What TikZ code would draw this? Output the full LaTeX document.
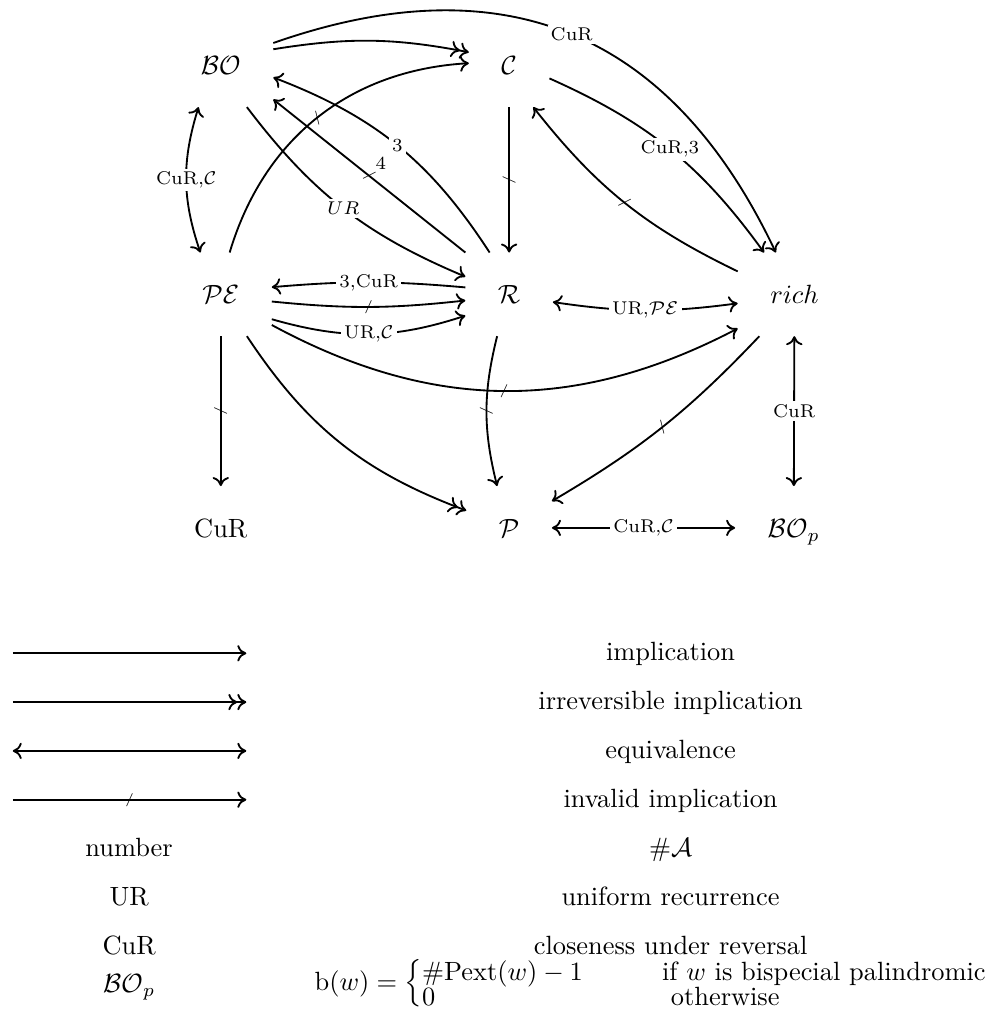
\documentclass[tikz,border=0pt]{standalone}
\usepackage{amssymb}
\usepackage{amsmath}
\usetikzlibrary{arrows.meta}

\begin{document}
\begin{tikzpicture}[
    line width = 0.7pt,
    >={Computer Modern Rightarrow[length=3.4pt, width=6.2pt]},
    prop/.style = {inner xsep=12pt, inner ysep=11pt, text height=8pt, text depth=1pt},
    desc/.style = {midway, fill=white, inner sep=1.2pt, font=\scriptsize},
    nogo/.style = {midway, sloped, anchor=center, inner sep=0pt, font=\tiny},
    keytext/.style = {text height=1.6ex, text depth=0.3ex}
  ]
  \useasboundingbox (0,0) rectangle (13.27,13.69);

  % properties
  \begin{scope}[nodes = prop]
    \node (BO)   at (2.94,12.82) {$\mathcal{BO}$};
    \node (C)    at (6.78,12.82) {$\mathcal{C}$};
    \node (PE)   at (2.94,9.77)  {$\mathcal{PE}$};
    \node (R)    at (6.78,9.77)  {$\mathcal{R}$};
    \node (rich) at (10.58,9.77) {$rich$};
    \node (CuR)  at (2.94,6.66)  {CuR};
    \node (P)    at (6.78,6.66)  {$\mathcal{P}$};
    \node (BOp)  at (10.57,6.66) {$\mathcal{BO}_p$};
  \end{scope}

  % implications
  \draw[->] (BO.23) to[bend left=42, looseness=1.15] node[desc] {CuR} (rich.114);
  \draw[->>] (BO.17) to[bend left=10] (C.162);
  \draw[->] (PE.78) to[bend left=35] node[nogo] {/} (C.177);
  \draw[<->] (BO.242) to[bend right=18] node[desc] {CuR,$\mathcal{C}$} (PE.116);
  \draw[->] (BO.-58) to[bend right=15] node[desc] {$UR$} (R.158);
  \draw[->] (R.115) to[bend right=18] node[desc] {3} (BO.-13);
  \draw[->] (R.north west) -- node[nogo] {/}
    node[auto, swap, font=\scriptsize, inner sep=2pt] {4} (BO.-33);
  \draw[->] (C) -- node[nogo] {/} (R);
  \draw[->] (C.-18) to[bend left=15] node[desc] {CuR,3} (rich.126);
  \draw[->] (rich.158) to[bend left=13] node[nogo] {/} (C.-60);
  \draw[->] (R.171) to[bend right=5] node[desc] {3,CuR} (PE.8);
  \draw[->] (PE.-8) to[bend right=6] node[nogo] {/} (R.188);
  \draw[->] (PE.-26) to[bend right=17] node[desc] {UR,$\mathcal{C}$} (R.206);
  \draw[->] (PE.-31) to[bend right=28] node[nogo] {/} (rich.211);
  \draw[->] (PE) -- node[nogo] {/} (CuR);
  \draw[->>] (PE.-58) to[bend right=18] (P.158);
  \draw[->] (R.254) to[bend right=14] node[nogo] {/} (P.106);
  \draw[<->] (R.-10) to[bend right=8] node[desc] {UR,$\mathcal{PE}$} (rich.189);
  \draw[->] (rich.230) to[bend left=8] node[nogo] {/} (P.32);
  \draw[<->] (rich) -- node[desc] {CuR} (BOp);
  \draw[<->] (P) -- node[desc] {CuR,$\mathcal{C}$} (BOp);

  % legend
  \coordinate (imp0) at (0.17,4.99);  \coordinate (imp1) at (3.28,4.99);
  \coordinate (irr0) at (0.17,4.34);  \coordinate (irr1) at (3.28,4.34);
  \coordinate (equ0) at (0.17,3.69);  \coordinate (equ1) at (3.28,3.69);
  \coordinate (inv0) at (0.17,3.04);  \coordinate (inv1) at (3.28,3.04);
  \draw[->] (imp0) -- (imp1);
  \draw[->>] (irr0) -- (irr1);
  \draw[<->] (equ0) -- (equ1);
  \draw[->] (inv0) -- node[nogo] {/} (inv1);

  \begin{scope}[nodes = keytext]
    \node (impT) at (8.93,4.99) {implication};
    \node (irrT) at (8.93,4.34) {irreversible implication};
    \node (equT) at (8.93,3.69) {equivalence};
    \node (invT) at (8.93,3.04) {invalid implication};
    \node (numK) at (1.72,2.38) {number};
    \node (numT) at (8.93,2.38) {$\#\mathcal{A}$};
    \node (urK)  at (1.72,1.73) {UR};
    \node (urT)  at (8.93,1.73) {uniform recurrence};
    \node (cuK)  at (1.72,1.08) {CuR};
    \node (cuT)  at (8.93,1.08) {closeness under reversal};
    \node (bopK) at (1.72,0.57) {$\mathcal{BO}_p$};
  \end{scope}
  \node[anchor=east, inner sep=0pt] (bopT) at (13.18,0.59)
    {$\mathrm{b}(w)=\left\{\renewcommand{\arraystretch}{0}%
      \begin{array}{@{}l@{\quad}l@{}}
        \#\mathrm{Pext}(w)-1 & \qquad\text{if $w$ is bispecial palindromic}\\
        0 & \qquad\text{ otherwise}
      \end{array}\right.$};

\end{tikzpicture}
\end{document}
